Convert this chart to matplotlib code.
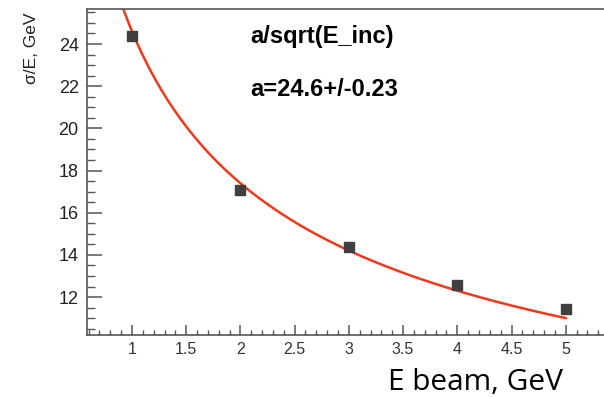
import numpy as np
import matplotlib.pyplot as plt
from matplotlib.ticker import MultipleLocator

# measured resolution vs beam energy
e_beam = [1, 2, 3, 4, 5]
sigma_e = [24.4, 17.1, 14.35, 12.58, 11.42]

# fit a/sqrt(E_inc)
fit_a = 24.6
fit_a_err = 0.23
fit_range = (0.8, 5.0)


def main():
    fig = plt.figure(figsize=(6.04, 3.97), dpi=100)
    ax = fig.add_axes([87 / 604, 1 - 335 / 397, 1 - 87 / 604, (335 - 9) / 397])

    xf = np.linspace(fit_range[0], fit_range[1], 300)
    ax.plot(xf, fit_a / np.sqrt(xf), color='#ee3a1c', lw=1.8, zorder=2)
    ax.plot(e_beam, sigma_e, 's', color='#404040', markersize=6.5, zorder=3)

    ax.set_xlim(0.585, 5.353)
    ax.set_ylim(10.2, 25.66)

    ax.xaxis.set_major_locator(MultipleLocator(0.5))
    ax.xaxis.set_minor_locator(MultipleLocator(0.1))
    ax.yaxis.set_major_locator(MultipleLocator(2))
    ax.yaxis.set_minor_locator(MultipleLocator(0.5))
    ax.xaxis.set_major_formatter(plt.FuncFormatter(lambda v, p: f'{v:g}'))

    axis_col = '#555555'
    for side in ['left', 'bottom', 'top']:
        ax.spines[side].set_color(axis_col)
        ax.spines[side].set_linewidth(1.2)
    ax.spines['right'].set_visible(False)

    ax.tick_params(axis='x', which='major', direction='in', length=7.2, width=1.1,
                   color=axis_col, pad=5, labelsize=11.5, labelcolor='#333333')
    ax.tick_params(axis='x', which='minor', direction='in', length=3.6, width=1.0,
                   color=axis_col)
    ax.tick_params(axis='y', which='major', direction='in', length=11, width=1.1,
                   color=axis_col, pad=6, labelsize=13, labelcolor='#222222')
    ax.tick_params(axis='y', which='minor', direction='in', length=5.8, width=1.0,
                   color=axis_col)
    ax.tick_params(top=False, right=False, which='both')
    for lab in ax.get_xticklabels() + ax.get_yticklabels():
        lab.set_family('Liberation Sans')

    fig.text(32 / 604, 1 - 12 / 397, 'σ/E, GeV', rotation=90, ha='center', va='top',
             fontsize=12.5, family='Liberation Sans', color='#222222')
    fig.text(388 / 604, 1 - 382 / 397, 'E beam, GeV', ha='left', va='center',
             fontsize=21.5, family='Open Sans', color='black')

    fig.text(250 / 604, 1 - 36 / 397, 'a/sqrt(E_inc)', ha='left', va='center',
             fontsize=17, fontweight='bold', family='Liberation Sans')
    fig.text(250 / 604, 1 - 89 / 397, f'a={fit_a}+/-{fit_a_err}', ha='left', va='center',
             fontsize=17, fontweight='bold', family='Liberation Sans')

    fig.savefig('out.png', dpi=100)


if __name__ == "__main__":
    main()
